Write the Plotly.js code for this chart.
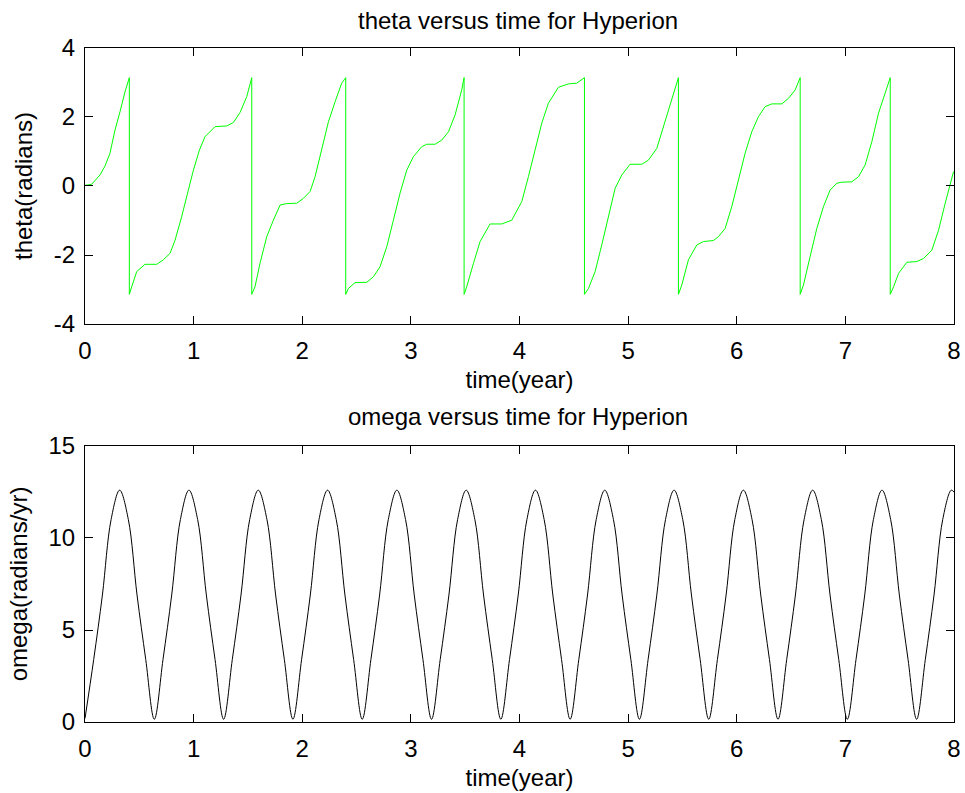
<!DOCTYPE html>
<html>
<head>
<meta charset="utf-8">
<script src="https://cdn.plot.ly/plotly-3.0.1.min.js"></script>
<style>
html,body{margin:0;padding:0;background:#fff;}
#chart{width:965px;height:793px;}
</style>
</head>
<body>
<div id="chart"></div>
<script>
// theta (radians) versus time (year); wraps at +/- pi
const thetaTime = [
  0, 0.061, 0.138, 0.184, 0.230, 0.276, 0.322, 0.368, 0.408, 0.408,
  0.430, 0.476, 0.552, 0.660, 0.721, 0.783, 0.829, 0.890, 0.951, 0.998, 1.053, 1.105, 1.197, 1.304, 1.366, 1.427, 1.489, 1.535, 1.535,
  1.565, 1.611, 1.673, 1.734, 1.796, 1.857, 1.949, 2.010, 2.072, 2.118, 2.179, 2.241, 2.302, 2.363, 2.400, 2.400,
  2.425, 2.486, 2.594, 2.655, 2.716, 2.778, 2.839, 2.900, 2.962, 3.023, 3.100, 3.146, 3.223, 3.284, 3.346, 3.407, 3.468, 3.490, 3.490,
  3.514, 3.576, 3.637, 3.729, 3.837, 3.929, 4.021, 4.082, 4.144, 4.205, 4.266, 4.358, 4.451, 4.527, 4.598, 4.598,
  4.635, 4.696, 4.757, 4.819, 4.880, 4.942, 5.018, 5.126, 5.187, 5.264, 5.325, 5.402, 5.463, 5.463,
  5.494, 5.555, 5.632, 5.693, 5.785, 5.831, 5.893, 5.954, 6.016, 6.077, 6.138, 6.200, 6.261, 6.323, 6.415, 6.476, 6.537, 6.584, 6.584,
  6.614, 6.675, 6.737, 6.798, 6.859, 6.921, 6.967, 7.059, 7.121, 7.182, 7.244, 7.305, 7.366, 7.413, 7.413,
  7.444, 7.490, 7.566, 7.658, 7.720, 7.796, 7.858, 7.919, 7.996
];
const thetaValues = [
  0.02, 0.05, 0.32, 0.58, 0.95, 1.62, 2.15, 2.73, 3.14, -3.14,
  -2.92, -2.48, -2.27, -2.27, -2.14, -1.95, -1.57, -0.89, -0.12, 0.46, 1.04, 1.43, 1.72, 1.74, 1.84, 2.13, 2.59, 3.14, -3.14,
  -2.92, -2.24, -1.47, -0.99, -0.55, -0.51, -0.50, -0.36, -0.16, 0.27, 1.04, 1.86, 2.44, 2.98, 3.14, -3.14,
  -2.97, -2.80, -2.79, -2.63, -2.34, -1.76, -0.99, -0.21, 0.46, 0.85, 1.14, 1.21, 1.21, 1.33, 1.57, 2.06, 2.78, 3.14, -3.14,
  -2.92, -2.24, -1.61, -1.10, -1.10, -0.99, -0.45, 0.27, 1.04, 1.82, 2.40, 2.86, 2.96, 2.98, 3.14, -3.14,
  -2.97, -2.48, -1.71, -0.89, -0.07, 0.32, 0.63, 0.63, 0.75, 1.09, 1.72, 2.54, 3.14, -3.14,
  -2.87, -2.14, -1.71, -1.61, -1.58, -1.47, -1.23, -0.60, 0.17, 0.95, 1.57, 2.01, 2.30, 2.38, 2.38, 2.54, 2.78, 3.14, -3.14,
  -2.87, -2.05, -1.23, -0.60, -0.12, 0.08, 0.11, 0.12, 0.27, 0.61, 1.29, 2.11, 2.73, 3.14, -3.14,
  -2.92, -2.53, -2.21, -2.19, -2.10, -1.86, -1.28, -0.50, 0.42
];

// omega (radians/yr) versus time (year)
const omegaTime = [
  0, 0.080, 0.160, 0.240, 0.319, 0.399, 0.479, 0.559,
  0.638, 0.718, 0.798, 0.878, 0.957, 1.037, 1.117, 1.197,
  1.276, 1.356, 1.436, 1.516, 1.595, 1.675, 1.755, 1.835,
  1.914, 1.994, 2.074, 2.154, 2.233, 2.313, 2.393, 2.473,
  2.552, 2.632, 2.712, 2.792, 2.871, 2.951, 3.031, 3.111,
  3.190, 3.270, 3.350, 3.430, 3.509, 3.589, 3.669, 3.749,
  3.828, 3.908, 3.988, 4.068, 4.147, 4.227, 4.307, 4.387,
  4.466, 4.546, 4.626, 4.706, 4.785, 4.865, 4.945, 5.025,
  5.104, 5.184, 5.264, 5.344, 5.423, 5.503, 5.583, 5.663,
  5.742, 5.822, 5.902, 5.982, 6.061, 6.141, 6.221, 6.301,
  6.380, 6.460, 6.540, 6.620, 6.699, 6.779, 6.859, 6.939,
  7.018, 7.098, 7.178, 7.258, 7.337, 7.417, 7.497, 7.577,
  7.656, 7.736, 7.816, 7.896, 7.975, 8.000
];
const omegaValues = [
  0.2, 3.4, 6.9, 11.0, 12.6, 11.0, 6.9, 3.4,
  0.15, 3.4, 6.9, 11.0, 12.6, 11.0, 6.9, 3.4,
  0.15, 3.4, 6.9, 11.0, 12.6, 11.0, 6.9, 3.4,
  0.15, 3.4, 6.9, 11.0, 12.6, 11.0, 6.9, 3.4,
  0.15, 3.4, 6.9, 11.0, 12.6, 11.0, 6.9, 3.4,
  0.15, 3.4, 6.9, 11.0, 12.6, 11.0, 6.9, 3.4,
  0.15, 3.4, 6.9, 11.0, 12.6, 11.0, 6.9, 3.4,
  0.15, 3.4, 6.9, 11.0, 12.6, 11.0, 6.9, 3.4,
  0.15, 3.4, 6.9, 11.0, 12.6, 11.0, 6.9, 3.4,
  0.15, 3.4, 6.9, 11.0, 12.6, 11.0, 6.9, 3.4,
  0.15, 3.4, 6.9, 11.0, 12.6, 11.0, 6.9, 3.4,
  0.15, 3.4, 6.9, 11.0, 12.6, 11.0, 6.9, 3.4,
  0.15, 3.4, 6.9, 11.0, 12.6, 12.5
];

const xTicks = [0, 1, 2, 3, 4, 5, 6, 7, 8];
const thetaTicks = [-4, -2, 0, 2, 4];
const omegaTicks = [0, 5, 10, 15];

const FONT = 'Liberation Sans, Arial, Helvetica, sans-serif';
const FS = 24;

const traces = [
  {x: thetaTime, y: thetaValues, type: 'scatter', mode: 'lines',
   line: {color: '#00ff00', width: 1}, xaxis: 'x', yaxis: 'y', hoverinfo: 'x+y'},
  {x: omegaTime, y: omegaValues, type: 'scatter', mode: 'lines',
   line: {color: '#000000', width: 1, shape: 'spline', smoothing: 1}, xaxis: 'x2', yaxis: 'y2', hoverinfo: 'x+y'}
];

function xAxis(anchor) {
  return {
    domain: [0.0881, 0.9886], anchor: anchor, range: [0, 8],
    tickmode: 'array', tickvals: xTicks, ticktext: xTicks.map(String),
    ticks: 'inside', ticklen: 8, tickwidth: 1, tickcolor: '#000',
    showline: true, linecolor: '#000', linewidth: 1, mirror: 'ticks',
    showgrid: false, zeroline: false,
    tickfont: {family: FONT, size: FS, color: '#000'},
    ticklabelstandoff: 5,
    title: {text: 'time(year)', font: {family: FONT, size: FS, color: '#000'}, standoff: 8}
  };
}
function yAxis(anchor, domain, range, ticks, label) {
  return {
    domain: domain, anchor: anchor, range: range,
    tickmode: 'array', tickvals: ticks, ticktext: ticks.map(String),
    ticks: 'inside', ticklen: 8, tickwidth: 1, tickcolor: '#000',
    showline: true, linecolor: '#000', linewidth: 1, mirror: 'ticks',
    showgrid: false, zeroline: false,
    tickfont: {family: FONT, size: FS, color: '#000'},
    ticklabelstandoff: 4,
    title: {text: label, font: {family: FONT, size: FS, color: '#000'}, standoff: 14}
  };
}

const layout = {
  width: 965, height: 793,
  margin: {l: 0, r: 0, t: 0, b: 0},
  paper_bgcolor: '#ffffff', plot_bgcolor: '#ffffff',
  showlegend: false,
  font: {family: FONT, size: FS, color: '#000'},
  xaxis: xAxis('y'),
  yaxis: yAxis('x', [0.5914, 0.9395], [-4, 4], thetaTicks, 'theta(radians)'),
  xaxis2: xAxis('y2'),
  yaxis2: yAxis('x2', [0.0895, 0.4376], [0, 15], omegaTicks, 'omega(radians/yr)'),
  annotations: [
    {text: 'theta versus time for Hyperion', xref: 'paper', yref: 'paper',
     x: 0.537, y: 1 - 21 / 793, xanchor: 'center', yanchor: 'middle', showarrow: false,
     font: {family: FONT, size: FS, color: '#000'}},
    {text: 'omega versus time for Hyperion', xref: 'paper', yref: 'paper',
     x: 0.537, y: 1 - 417 / 793, xanchor: 'center', yanchor: 'middle', showarrow: false,
     font: {family: FONT, size: FS, color: '#000'}}
  ]
};

Plotly.newPlot('chart', traces, layout, {displayModeBar: false, staticPlot: true});
</script>
</body>
</html>
